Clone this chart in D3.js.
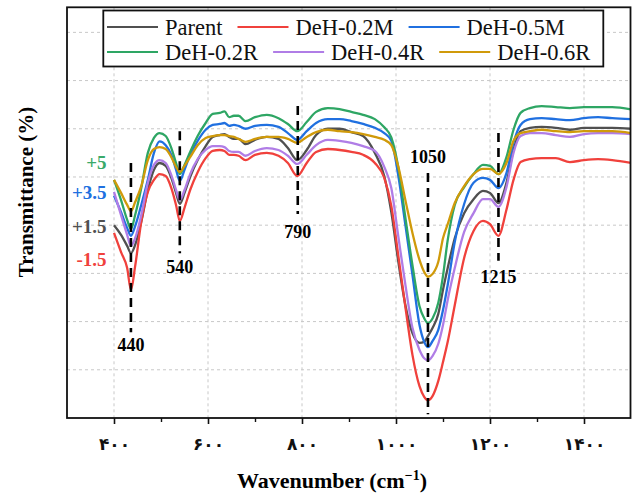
<!DOCTYPE html>
<html><head><meta charset="utf-8">
<script src="https://cdn.jsdelivr.net/npm/d3@7"></script>
<style>body{margin:0;background:#fff}</style>
</head><body>
<svg id="chart" width="633" height="493"></svg>
<script>
// ---------- data ----------
const wavenumbers = [400,415,428,436,445,458,472,485,497,510,522,532,540,550,562,578,595,610,625,635,645,655,665,680,700,725,750,770,790,810,830,855,880,905,930,955,975,990,1005,1020,1035,1050,1060,1068,1078,1090,1100,1110,1125,1145,1165,1185,1200,1218,1235,1250,1265,1285,1310,1340,1370,1400,1430,1460,1500];

const parentT = [40.0,38.0,35.7,34.2,35.9,40.7,47.3,51.5,52.9,52.3, 49.8,46.7,44.4,46.7,50.0,53.5,56.4,58.3,58.7,58.9, 58.3,57.9,57.9,56.8,57.7,58.3,57.9,56.0,53.5,55.6, 58.7,60.0,60.0,59.3,58.5,55.0,50.2,42.7,32.4,23.4, 17.6,15.6,15.8,17.0,18.7,21.6,26.6,31.1,37.3,42.5, 45.4,47.1,46.7,44.6,48.8,55.6,59.5,60.2,60.4,60.2, 59.8,60.2,60.2,60.2,60.0];
const deh02M = [38.4,34.4,31.1,26.6,31.5,40.7,46.9,49.4,50.6,50.2, 47.7,44.2,40.9,43.6,47.3,51.0,53.9,55.4,55.6,55.4, 54.6,54.6,54.4,53.5,54.6,55.0,54.4,52.9,50.2,52.9, 55.2,55.8,55.6,55.2,54.6,52.9,49.8,44.0,33.6,23.0, 13.1,6.6,4.4,3.7,4.6,7.7,11.6,15.8,23.4,33.2, 38.8,40.9,40.2,37.8,43.2,49.4,53.1,53.7,53.9,53.9, 53.1,53.5,53.7,53.5,52.9];
const deh05M = [46.1,42.7,39.4,37.8,39.8,44.2,49.4,55.0,57.4,56.6, 54.6,51.5,49.2,51.5,54.6,57.5,59.8,60.8,61.0,61.2, 60.6,60.8,60.6,60.0,60.6,60.8,60.4,59.1,57.7,59.5, 61.2,62.0,62.0,61.6,61.0,60.2,59.1,57.5,50.2,40.0, 29.7,19.3,15.8,14.7,16.0,18.3,22.4,27.6,36.5,44.4, 48.8,49.8,49.4,47.7,50.8,57.1,60.8,62.0,62.2,62.0, 61.8,62.2,62.4,62.2,62.0];
const deh02R = [49.4,45.2,41.1,39.2,42.1,47.7,55.0,58.1,59.1,58.5, 56.0,52.9,50.6,52.5,55.2,58.5,61.2,63.1,63.3,63.6, 62.4,62.7,62.7,61.6,62.4,62.9,62.2,61.0,59.5,61.4, 63.5,64.3,64.1,63.5,62.9,62.0,60.3,58.2,51.9,41.5, 31.7,23.2,20.7,19.7,20.7,23.9,29.5,36.9,44.2,47.9, 50.6,52.5,52.3,50.6,54.1,59.8,63.3,64.3,64.7,64.5, 64.3,64.5,64.5,64.5,64.0];
const deh04R = [46.9,42.1,38.0,35.7,37.3,42.1,48.8,52.5,53.5,52.9, 50.4,47.3,45.2,47.3,50.6,53.7,55.6,56.4,56.4,56.2, 55.4,55.2,55.2,54.4,55.4,56.0,55.6,54.4,52.7,54.6, 56.6,57.7,57.5,57.1,56.4,55.4,52.1,47.7,37.6,27.6, 18.7,14.1,12.4,12.0,12.9,15.4,19.3,24.5,31.1,38.6, 42.5,45.4,45.4,43.8,47.9,55.0,58.5,59.1,59.1,58.7, 58.3,58.9,59.1,59.1,58.9];
const deh06R = [49.4,46.7,44.2,42.9,44.8,48.1,53.5,55.8,56.2,55.8, 54.1,52.1,51.0,52.3,54.1,56.6,58.1,58.5,58.7,58.7, 58.5,58.3,57.9,57.3,57.9,58.3,58.3,57.9,57.1,58.3, 59.3,59.8,59.5,59.3,58.9,58.3,57.7,56.6,52.1,45.2, 38.4,32.8,30.3,29.3,29.9,32.4,37.3,40.2,44.6,48.1, 50.6,51.7,51.7,50.6,52.9,57.5,59.1,59.5,59.8,59.5, 59.3,59.5,59.5,59.5,59.1];

const seriesNames = ["Parent","DeH-0.2M","DeH-0.5M","DeH-0.2R","DeH-0.4R","DeH-0.6R"];
const seriesValues = [parentT, deh02M, deh05M, deh02R, deh04R, deh06R];
const seriesColors = ["#505050","#f0413c","#2070e0","#2ea664","#b07de6","#d09a0a"];

const xTicks = [400,600,800,1000,1200,1400];
const xTickLabels = ["۴۰۰","۶۰۰","۸۰۰","۱۰۰۰","۱۲۰۰","۱۴۰۰"];
const xMinorTicks = [500,700,900,1100,1300];
const yGrid = [10,20,30,40,50,60,70,80];

// peak markers: position, label, dashed-line top/bottom and label level (y units)
const peakPos    = [436, 540, 791, 1068, 1218];
const peakLabels = ["440","540","790","1050","1215"];
const peakTop    = [52.9, 59.5, 64.7, 50.8, 59.1];
const peakBottom = [17.8, 34.2, 42.3, 0.8, 32.6];
const peakLabelY = [15.1, 31.3, 38.6, 54.1, 29.3];

// offset labels
const offsetLabels = ["+5","+3.5","+1.5","-1.5"];
const offsetLevels = [53.1, 46.7, 39.8, 32.8];
const offsetColors = ["#3aaa6a","#2070e0","#505050","#f0413c"];

// ---------- chart ----------
const svg = d3.select("#chart");
const L = 67, R = 630.5, T = 7.3, B = 418;
const x = d3.scaleLinear().domain([300,1500]).range([L, 631]);
const y = d3.scaleLinear().domain([0, 85.2]).range([B, T]);
const serif = "'Liberation Serif','Times New Roman',serif";

svg.append("defs").append("clipPath").attr("id","clip")
  .append("rect").attr("x",L).attr("y",T).attr("width",R-L).attr("height",B-T);

// grid
const grid = svg.append("g").attr("stroke","#c8c8c8").attr("stroke-width",1).attr("stroke-dasharray","3,3");
grid.selectAll(".gx").data(xTicks).join("line")
  .attr("x1",d=>x(d)).attr("x2",d=>x(d)).attr("y1",T).attr("y2",B);
grid.selectAll(".gy").data(yGrid).join("line")
  .attr("x1",L).attr("x2",R).attr("y1",d=>y(d)).attr("y2",d=>y(d));

// lines
const line = d3.line().x((d,i)=>x(wavenumbers[i])).y(d=>y(d)).curve(d3.curveMonotoneX);
const lines = svg.append("g").attr("clip-path","url(#clip)");
seriesValues.forEach((vals,k)=>{
  lines.append("path").attr("d", line(vals)).attr("fill","none")
    .attr("stroke", seriesColors[k]).attr("stroke-width",2.3).attr("stroke-linejoin","round");
});

// peak markers
const pk = svg.append("g");
peakPos.forEach((p,i)=>{
  pk.append("line").attr("x1",x(p)).attr("x2",x(p)).attr("y1",y(peakTop[i])).attr("y2",y(peakBottom[i]))
    .attr("stroke","#000").attr("stroke-width",2.6).attr("stroke-dasharray","9,6");
  pk.append("text").attr("x",x(p)).attr("y",y(peakLabelY[i])).attr("text-anchor","middle")
    .attr("dominant-baseline","central").attr("font-family",serif).attr("font-weight","bold")
    .attr("font-size",18).text(peakLabels[i]);
});

// offset labels
offsetLabels.forEach((t,i)=>{
  svg.append("text").attr("x",x(384)).attr("y",y(offsetLevels[i])).attr("text-anchor","end")
    .attr("dominant-baseline","central").attr("font-family",serif).attr("font-weight","bold")
    .attr("font-size",19).attr("fill",offsetColors[i]).text(t);
});

// frame
svg.append("rect").attr("x",L).attr("y",T).attr("width",R-L).attr("height",B-T)
  .attr("fill","none").attr("stroke","#111").attr("stroke-width",1.8);

// x axis
const ax = svg.append("g").attr("transform",`translate(0,${B})`)
  .call(d3.axisBottom(x).tickValues(xTicks).tickFormat((d,i)=>xTickLabels[i]).tickSize(6).tickPadding(8));
ax.select(".domain").remove();
ax.selectAll(".tick line").attr("stroke","#111").attr("stroke-width",1.6);
ax.selectAll(".tick text").attr("font-family","'DejaVu Sans',sans-serif").attr("font-weight","bold")
  .attr("font-size",17).attr("fill","#111").attr("dy",null).attr("y",32);
const axm = svg.append("g").attr("transform",`translate(0,${B})`)
  .call(d3.axisBottom(x).tickValues(xMinorTicks).tickFormat("").tickSize(4));
axm.select(".domain").remove();
axm.selectAll(".tick line").attr("stroke","#111").attr("stroke-width",1.4);

// axis titles
svg.append("text").attr("transform","translate(26,192) rotate(-90)").attr("text-anchor","middle")
  .attr("dominant-baseline","central").attr("font-family",serif).attr("font-weight","bold")
  .attr("font-size",21).text("Transmittance (%)");
const xt = svg.append("text").attr("x",332).attr("y",488).attr("text-anchor","middle")
  .attr("font-family",serif).attr("font-weight","bold").attr("font-size",22);
xt.append("tspan").text("Wavenumber (cm");
xt.append("tspan").attr("dy",-8).attr("font-size",14).text("−1");
xt.append("tspan").attr("dy",8).text(")");

// legend
const lg = svg.append("g");
lg.append("rect").attr("x",103.3).attr("y",10.5).attr("width",500).attr("height",56)
  .attr("fill","#fff").attr("stroke","#111").attr("stroke-width",1.8);
const rowsY = [27, 52];
let cx = [107, 107];
seriesNames.forEach((n,i)=>{
  const r = Math.floor(i/3);
  const x0 = cx[r];
  lg.append("line").attr("x1",x0).attr("x2",x0+51).attr("y1",rowsY[r]).attr("y2",rowsY[r])
    .attr("stroke",seriesColors[i]).attr("stroke-width",2.2);
  const t = lg.append("text").attr("x",x0+58).attr("y",rowsY[r]).attr("dominant-baseline","central")
    .attr("font-family",serif).attr("font-size",22.5).attr("fill","#111").text(n);
  cx[r] = x0 + 58 + t.node().getComputedTextLength() + 15;
});
</script>
</body></html>
